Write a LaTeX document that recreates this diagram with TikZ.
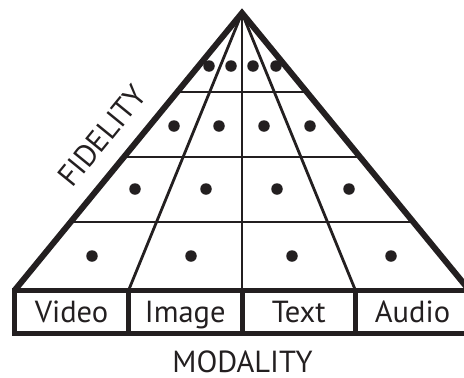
\documentclass[tikz,border=0pt]{standalone}
\usepackage{fontspec}
\setmainfont{PT Sans}
\usetikzlibrary{calc}
\definecolor{ink}{HTML}{231F20}
\begin{document}
\begin{tikzpicture}[x=1pt,y=-1pt,
  outerside/.style={draw=ink, line width=6pt, line join=miter},
  innerline/.style={draw=ink, line width=2.8pt},
  boxline/.style={draw=ink, line width=5pt},
  dotmark/.style={circle, fill=ink, draw=none, inner sep=0pt, minimum size=11.5pt},
  lab/.style={font=\fontsize{30.5}{32}\selectfont, inner sep=0pt, text=ink}]
\useasboundingbox (0,0) rectangle (464,378);
\clip (0,0) rectangle (464,378);
% key points
\coordinate (apex) at (242,13);
\coordinate (bl) at (14.5,290.5);
\coordinate (br) at (469.5,290.5);
\coordinate (b1) at (128.5,290.5);
\coordinate (b2) at (242,290.5);
\coordinate (b3) at (355.5,290.5);
% fan lines
\draw[innerline] (apex) -- (b1);
\draw[innerline] (apex) -- (b2);
\draw[innerline] (apex) -- (b3);
% horizontal levels
\foreach \t/\n in {0.2846/1,0.5189/2,0.7532/3}{
  \coordinate (l\n) at ($(apex)!\t!(bl)$);
  \coordinate (r\n) at ($(apex)!\t!(br)$);
  \draw[innerline] (l\n) -- (r\n);
}
% outer sides
\draw[outerside] (bl) -- (apex) -- (br);
% modality boxes
\coordinate (bbr) at (469.5,333);
\draw[boxline] (bl) rectangle (bbr);
\draw[boxline] (b1) -- (b1 |- bbr);
\draw[boxline] (b2) -- (b2 |- bbr);
\draw[boxline] (b3) -- (b3 |- bbr);
\node[lab, anchor=base] (video) at (71.5,322) {Video};
\node[lab, anchor=base] (image) at (185.3,322) {Image};
\node[lab, anchor=base] (text) at (298.8,322) {Text};
\node[lab, anchor=base] (audio) at (412.5,322) {Audio};
% dots
\foreach \x/\y/\n in {209/66/a1,231/66/a2,253/66/a3,276/66/a4,
                      174/126/b1,219/126/b2,264/126/b3,310/126/b4,
                      135/189/c1,206/189/c2,277/189/c3,349/189/c4,
                      92/256/d1,191/256/d2,292/256/d3,391/256/d4}{
  \node[dotmark] (dot\n) at (\x,\y) {};
}
% axis labels
\node[lab, anchor=base] (modality) at (242.5,372.5) {MODALITY};
\node[lab, rotate=50.8] (fidelity) at (102,136) {FIDELITY};
\end{tikzpicture}
\end{document}
